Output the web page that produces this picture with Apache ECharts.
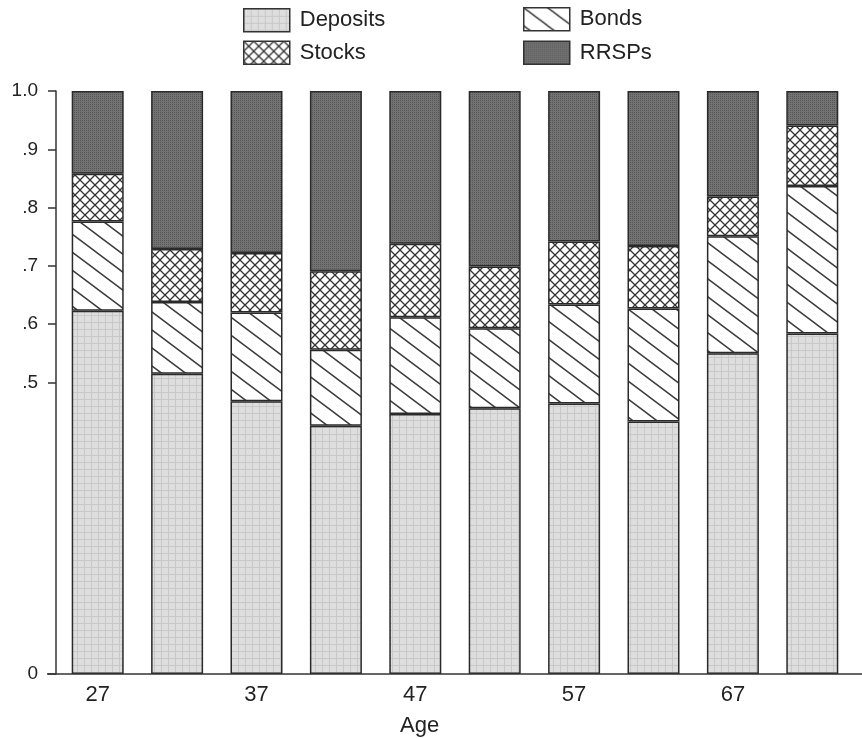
<!DOCTYPE html>
<html>
<head>
<meta charset="utf-8">
<script src="https://cdn.jsdelivr.net/npm/echarts@6/dist/echarts.min.js"></script>
<style>html,body{margin:0;padding:0;background:#fff}#c{width:862px;height:738px}</style>
</head>
<body>
<div id="c"></div>
<script>
// ---- data ----
const ages = ['27','32','37','42','47','52','57','62','67','72'];
const deposits = [0.623,0.515,0.468,0.426,0.446,0.456,0.464,0.433,0.550,0.584];
const bonds    = [0.153,0.123,0.152,0.130,0.166,0.137,0.170,0.194,0.201,0.253];
const stocks   = [0.082,0.091,0.102,0.135,0.126,0.106,0.108,0.107,0.068,0.104];
const rrsps    = [0.142,0.271,0.278,0.309,0.262,0.301,0.258,0.266,0.181,0.059];
const yTickValues = [0,0.5,0.6,0.7,0.8,0.9,1.0];
const yTickLabels = ['0','.5','.6','.7','.8','.9','1.0'];

// ---- patterns ----
function tile(w,h,draw){const c=document.createElement('canvas');c.width=w;c.height=h;draw(c.getContext('2d'),w,h);return {image:c,repeat:'repeat'};}
const depPat = tile(7,7,(g,w,h)=>{g.fillStyle='#dedede';g.fillRect(0,0,w,h);g.fillStyle='#c8c8c8';g.fillRect(0,0,w,1);g.fillRect(0,0,1,h);});
const rrPat = tile(2,2,(g,w,h)=>{g.fillStyle='#737373';g.fillRect(0,0,w,h);g.fillStyle='#555';g.fillRect(0,0,1,1);});
const stPat = tile(10,10,(g,w,h)=>{g.fillStyle='#fff';g.fillRect(0,0,w,h);g.strokeStyle='#333';g.lineWidth=1.3;g.beginPath();g.moveTo(-1,-1);g.lineTo(11,11);g.moveTo(11,-1);g.lineTo(-1,11);g.stroke();});
const bdPat = tile(24,18,(g,w,h)=>{g.fillStyle='#fff';g.fillRect(0,0,w,h);g.strokeStyle='#3c3c3c';g.lineWidth=1.5;g.beginPath();g.moveTo(-w,-h);g.lineTo(2*w,2*h);g.moveTo(-2*w,-h);g.lineTo(w,h+h);g.moveTo(0,-h);g.lineTo(3*w,2*h);g.stroke();});

const font = 'Liberation Sans, Arial, sans-serif';
const border = {borderColor:'#2a2a2a', borderWidth:1.5};
function mk(name,data,pat){return {name,type:'bar',stack:'s',data,barWidth:52,itemStyle:Object.assign({color:pat},border),emphasis:{disabled:true}};}
const legTxt = {fontFamily:font,fontSize:22,color:'#222',padding:[0,0,0,5]};

const chart = echarts.init(document.getElementById('c'),null,{renderer:'canvas'});
chart.setOption({
  animation:false,
  backgroundColor:'#fff',
  grid:{left:58,right:10,top:91,bottom:64},
  title:{text:'Age',left:395,top:710,textStyle:{fontFamily:font,fontSize:22,fontWeight:'normal',color:'#222'}},
  legend:[
    {data:['Deposits','Stocks'],orient:'vertical',left:243,top:8,icon:'rect',itemWidth:46,itemHeight:23,itemGap:8,padding:0,
     textStyle:legTxt,itemStyle:{borderColor:'#333',borderWidth:1.5},selectedMode:false},
    {data:['Bonds','RRSPs'],orient:'vertical',left:523,top:7,icon:'rect',itemWidth:46,itemHeight:23,itemGap:9,padding:0,
     textStyle:legTxt,itemStyle:{borderColor:'#333',borderWidth:1.5},selectedMode:false}
  ],
  xAxis:{type:'category',data:ages,axisLine:{show:false},axisTick:{show:false},
    axisLabel:{interval:1,margin:10,fontFamily:font,fontSize:22,color:'#222'}},
  yAxis:{type:'value',min:0,max:1,offset:2,splitLine:{show:false},
    axisLine:{show:true,lineStyle:{color:'#333',width:1.5}},
    axisTick:{show:true,length:8,customValues:yTickValues,lineStyle:{color:'#333',width:1.5}},
    axisLabel:{customValues:yTickValues,margin:18,fontFamily:font,fontSize:19,color:'#222',
      formatter:v=>{const i=yTickValues.findIndex(t=>Math.abs(t-v)<1e-9);return i>=0?yTickLabels[i]:'';}}},
  series:[mk('Deposits',deposits,depPat),mk('Bonds',bonds,bdPat),mk('Stocks',stocks,stPat),mk('RRSPs',rrsps,rrPat)]
});
const y0 = chart.convertToPixel({yAxisIndex:0},0);
chart.setOption({graphic:[{type:'line',z:100,shape:{x1:47,y1:y0,x2:862,y2:y0},style:{stroke:'#333',lineWidth:1.5}}]});
</script>
</body>
</html>
